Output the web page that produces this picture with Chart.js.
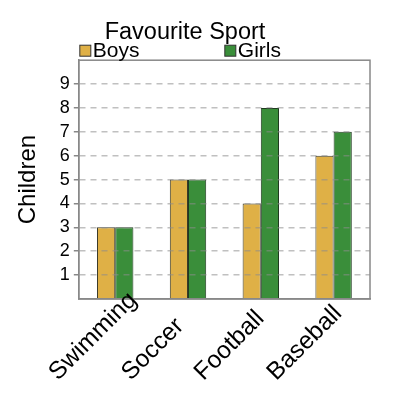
<!DOCTYPE html>
<html>
<head>
<meta charset="utf-8">
<script src="https://cdn.jsdelivr.net/npm/chart.js@4"></script>
<style>
  html, body { margin: 0; padding: 0; background: #fff; }
  #wrap { width: 400px; height: 400px; }
</style>
</head>
<body>
<div id="wrap"><canvas id="sportChart"></canvas></div>
<script>
/* --- Data --- */
const sports = ['Swimming', 'Soccer', 'Football', 'Baseball'];
const boys = [3, 5, 4, 6];
const girls = [3, 5, 8, 7];
const yTicks = [1, 2, 3, 4, 5, 6, 7, 8, 9];

const FONT = "'Liberation Sans', Arial, sans-serif";

// frame round the plot area + a legend row just above it
const frame = {
  id: 'frame',
  beforeDraw(chart) {
    // slanted category labels start low and run up to the right
    const x = chart.scales.x;
    x._computeLabelArea = () => undefined;
    x._getXAxisLabelAlignment = () => 'left';
  },
  afterDatasetsDraw(chart) {
    const { ctx, chartArea: a } = chart;
    ctx.save();
    ctx.strokeStyle = '#888';
    ctx.lineWidth = 1.5;
    ctx.strokeRect(a.left, a.top, a.right - a.left, a.bottom - a.top);

    // legend: one item at the left edge, the next half way along
    const y = a.top - 10;
    ctx.font = '21px ' + FONT;
    ctx.textBaseline = 'middle';
    chart.data.datasets.forEach((ds, i) => {
      const x = a.left + 1 + i * 145;
      ctx.fillStyle = ds.backgroundColor;
      ctx.fillRect(x, y - 5, 11, 11);
      ctx.strokeStyle = '#333';
      ctx.lineWidth = 1;
      ctx.strokeRect(x, y - 5, 11, 11);
      ctx.fillStyle = '#000';
      ctx.fillText(ds.label, x + 13, y + 1);
    });
    ctx.restore();
  }
};

new Chart(document.getElementById('sportChart').getContext('2d'), {
  type: 'bar',
  data: {
    labels: sports,
    datasets: [
      { label: 'Boys', data: boys, backgroundColor: '#dfb046', borderColor: '#3a3a2a', borderWidth: 1 },
      { label: 'Girls', data: girls, backgroundColor: '#3a8e3a', borderColor: '#1f3a1f', borderWidth: 1 }
    ]
  },
  options: {
    responsive: true,
    maintainAspectRatio: false,
    animation: false,
    layout: { padding: { left: 0, right: 30, top: 18, bottom: 0 } },
    datasets: { bar: { categoryPercentage: 0.5, barPercentage: 1 } },
    plugins: {
      title: {
        display: true, text: 'Favourite Sport', color: '#000',
        font: { family: FONT, size: 23.5, weight: 'normal' },
        padding: { top: 0, bottom: 14 }
      },
      legend: { display: false },
      tooltip: { enabled: false }
    },
    scales: {
      x: {
        afterFit(scale) {
          scale.height = 101;
          scale.paddingLeft = 0;
          scale.paddingRight = 0;
        },
        grid: { display: false, drawTicks: false },
        border: { color: '#888', width: 1.5, z: 1 },
        ticks: {
          color: '#000', minRotation: 45, maxRotation: 45, padding: 67, labelOffset: -62, z: 2,
          font: { family: FONT, size: 24.5 }
        }
      },
      y: {
        min: 0, max: 10,
        afterBuildTicks(axis) { axis.ticks = yTicks.map(v => ({ value: v })); },
        grid: { color: 'rgba(140,140,140,0.55)', lineWidth: 1.5, tickLength: 5, tickColor: '#888', z: 1 },
        border: { color: '#888', width: 1.5, dash: [6, 5], z: 1 },
        ticks: { color: '#000', padding: 4, autoSkip: false, font: { family: FONT, size: 18 } },
        title: {
          display: true, text: 'Children', color: '#000',
          font: { family: FONT, size: 24 }, padding: { top: 14, bottom: 13 }
        }
      }
    }
  },
  plugins: [frame]
});
</script>
</body>
</html>
